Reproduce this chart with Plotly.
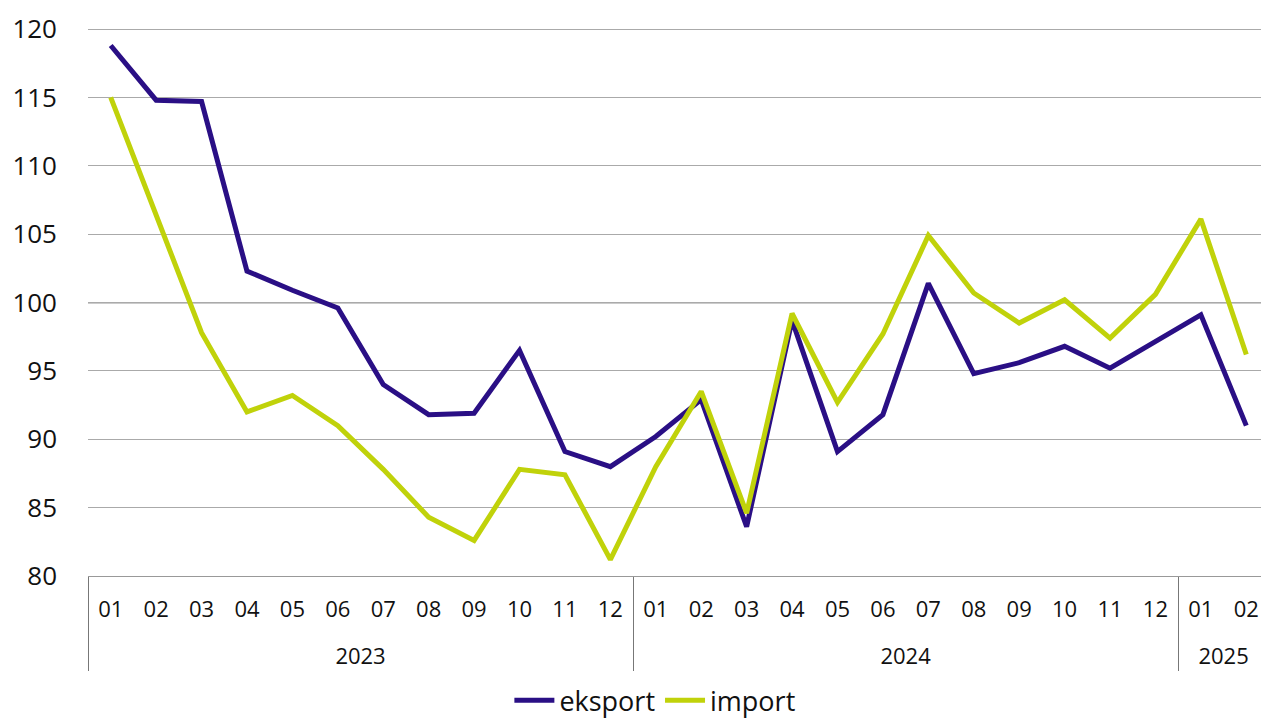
import plotly.graph_objects as go

years = ["2023"] * 12 + ["2024"] * 12 + ["2025"] * 2
months = [f"{m:02d}" for m in range(1, 13)] * 2 + ["01", "02"]

eksport = [118.8, 114.8, 114.7, 102.3, 100.9, 99.6, 94.0, 91.8, 91.9, 96.5, 89.1, 88.0,
           90.2, 92.9, 83.6, 98.7, 89.1, 91.8, 101.4, 94.8, 95.6, 96.8, 95.2, 97.2,
           99.1, 91.0]
importv = [115.0, 106.4, 97.8, 92.0, 93.2, 91.0, 87.8, 84.3, 82.6, 87.8, 87.4, 81.2,
           88.0, 93.5, 84.6, 99.2, 92.7, 97.7, 104.9, 100.7, 98.5, 100.2, 97.4, 100.6,
           106.1, 96.2]

font = "Open Sans"
year_labels = ["<br>" + y for y in years]
xcat = [year_labels, months]

fig = go.Figure()
fig.add_trace(go.Scatter(x=xcat, y=eksport, name="eksport", mode="lines",
                         line=dict(color="#2a0f85", width=5)))
fig.add_trace(go.Scatter(x=xcat, y=importv, name="import", mode="lines",
                         line=dict(color="#c0d20a", width=5)))

fig.add_shape(type="line", xref="paper", yref="y", x0=0, x1=1, y0=100, y1=100,
              line=dict(color="#333333", width=1.3), layer="below")

fig.update_layout(
    width=1261, height=717,
    margin=dict(l=80, r=0, t=20, b=149, autoexpand=False),
    plot_bgcolor="white", paper_bgcolor="white",
    font=dict(family=font, color="#111111"),
    showlegend=True,
    legend=dict(orientation="h", x=0.48, xanchor="center", y=0.034, yref="container",
                yanchor="middle", font=dict(size=27, family=font), itemwidth=40,
                traceorder="normal"),
    xaxis=dict(type="multicategory", range=[-0.5, 25.5], autorange=False,
               automargin=False, showgrid=False, showline=True, linecolor="#999999",
               linewidth=1.3, tickfont=dict(size=22, family=font),
               showdividers=True, dividercolor="#777777", dividerwidth=1.3,
               ticks="", ticklabelstandoff=13),
    yaxis=dict(range=[80, 120.08], autorange=False, automargin=False, dtick=5,
               tick0=80, showgrid=True, gridcolor="#aaaaaa",
               gridwidth=1.3, zeroline=False, showline=False,
               tickfont=dict(size=26, family=font), ticklabelstandoff=30),
)

fig.write_html("out.html")
